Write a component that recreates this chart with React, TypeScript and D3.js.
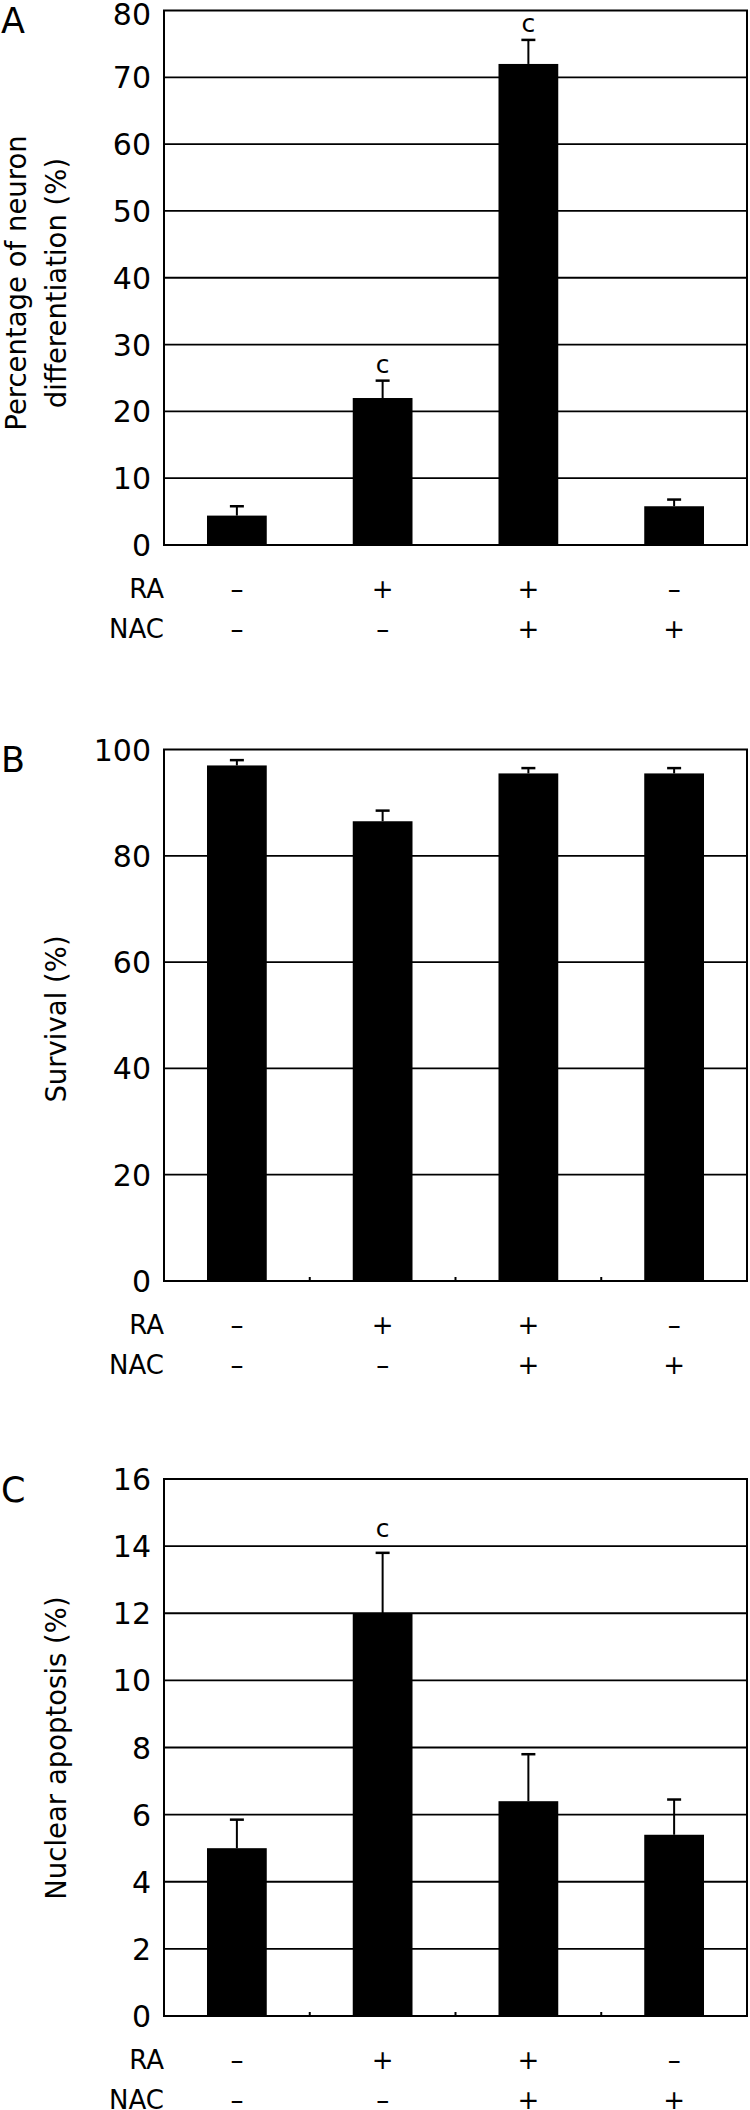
import React from 'react';
import * as d3 from 'd3';

// treatment groups
const groups = ['g1', 'g2', 'g3', 'g4'];
const raRow = ['–', '+', '+', '–'];
const nacRow = ['–', '–', '+', '+'];

// A: neuron differentiation
const neuronVals = [4.4, 22, 72, 5.8];
const neuronErr = [1.4, 2.6, 3.6, 1.0];
const neuronSig = ['', 'c', 'c', ''];
const neuronTicks = [0, 10, 20, 30, 40, 50, 60, 70, 80];

// B: survival
const survivalVals = [97, 86.5, 95.5, 95.5];
const survivalErr = [1.0, 2.0, 1.0, 1.0];
const survivalSig = ['', '', '', ''];
const survivalTicks = [0, 20, 40, 60, 80, 100];

// C: nuclear apoptosis
const apoptosisVals = [5.0, 12.0, 6.4, 5.4];
const apoptosisErr = [0.85, 1.8, 1.4, 1.05];
const apoptosisSig = ['', 'c', '', ''];
const apoptosisTicks = [0, 2, 4, 6, 8, 10, 12, 14, 16];

const FONT = '"DejaVu Sans", sans-serif';
const left = 164;
const right = 747;

const Panel = ({ letter, top, bottom, ticks, vals, errs, sig, title, sigGap, minorTicks, titleCenter }) => {
  const x = d3.scaleBand().domain(groups).range([left, right]).paddingInner(0.59).paddingOuter(0.295);
  const y = d3.scaleLinear().domain([0, ticks[ticks.length - 1]]).range([bottom, top]);
  const step = x.step();
  const cap = 7;
  return (
    <g>
      <text x={1} y={top + 22.5} fontSize={35} fontFamily={FONT}>{letter}</text>
      {/* gridlines */}
      {ticks.slice(1, -1).map(t => (
        <line key={t} x1={left} x2={right} y1={y(t)} y2={y(t)} stroke="#000" strokeWidth={1.8} />
      ))}
      {/* tick labels, kept inside the page at the very top */}
      {ticks.map(t => (
        <text key={'l' + t} x={151} y={Math.max(y(t) + 11, 25)} textAnchor="end" fontSize={30} fontFamily={FONT}>{t}</text>
      ))}
      {/* bars */}
      {groups.map((g, i) => {
        const bx = x(g);
        const cx = bx + x.bandwidth() / 2;
        const et = y(vals[i] + errs[i]);
        return (
          <g key={g}>
            <rect x={bx} y={y(vals[i])} width={x.bandwidth()} height={bottom - y(vals[i])} fill="#000" />
            <line x1={cx} x2={cx} y1={y(vals[i])} y2={et} stroke="#000" strokeWidth={2} />
            <line x1={cx - cap} x2={cx + cap} y1={et} y2={et} stroke="#000" strokeWidth={2.5} />
            {sig[i] && (
              <text x={cx} y={et - sigGap} textAnchor="middle" fontSize={25} fontFamily={FONT}>{sig[i]}</text>
            )}
            <text x={cx} y={bottom + 53} textAnchor="middle" fontSize={26} fontFamily={FONT}>{raRow[i]}</text>
            <text x={cx} y={bottom + 93} textAnchor="middle" fontSize={26} fontFamily={FONT}>{nacRow[i]}</text>
          </g>
        );
      })}
      {minorTicks && groups.slice(1).map((g, i) => (
        <line key={'m' + g} x1={left + step * (i + 1)} x2={left + step * (i + 1)} y1={bottom} y2={bottom - 4} stroke="#000" strokeWidth={2} />
      ))}
      {/* frame */}
      <rect x={left} y={top} width={right - left} height={bottom - top} fill="none" stroke="#000" strokeWidth={2} />
      <text x={164} y={bottom + 53} textAnchor="end" fontSize={26} fontFamily={FONT}>RA</text>
      <text x={164} y={bottom + 93} textAnchor="end" fontSize={26} fontFamily={FONT}>NAC</text>
      {/* y title */}
      {title.map((line, k) => (
        <text key={line} transform={`translate(${66 - (title.length - 1 - k) * 40},${titleCenter}) rotate(-90)`}
          textAnchor="middle" fontSize={27.5} fontFamily={FONT}>{line}</text>
      ))}
    </g>
  );
};

export default function App() {
  return (
    <svg width={750} height={2110} style={{ position: 'absolute', left: 0, top: 0, background: '#fff' }}>
      <rect width={750} height={2110} fill="#fff" />
      <Panel letter="A" top={10.5} bottom={545} ticks={neuronTicks} vals={neuronVals} errs={neuronErr}
        sig={neuronSig} sigGap={8} minorTicks={false} titleCenter={283}
        title={['Percentage of neuron', 'differentiation (%)']} />
      <Panel letter="B" top={749.5} bottom={1281} ticks={survivalTicks} vals={survivalVals} errs={survivalErr}
        sig={survivalSig} sigGap={8} minorTicks={true} titleCenter={1019}
        title={['Survival (%)']} />
      <Panel letter="C" top={1479} bottom={2016} ticks={apoptosisTicks} vals={apoptosisVals} errs={apoptosisErr}
        sig={apoptosisSig} sigGap={16} minorTicks={true} titleCenter={1748}
        title={['Nuclear apoptosis (%)']} />
    </svg>
  );
}
